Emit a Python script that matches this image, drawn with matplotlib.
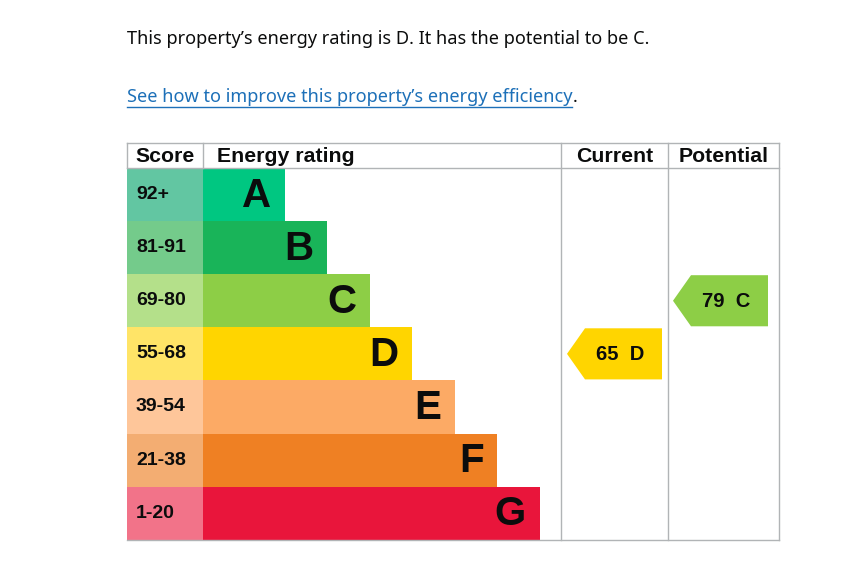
import matplotlib.pyplot as plt
from matplotlib.patches import Rectangle, Polygon

# EPC bands
bands = ['A', 'B', 'C', 'D', 'E', 'F', 'G']
score_ranges = ['92+', '81-91', '69-80', '55-68', '39-54', '21-38', '1-20']
band_colors = ['#00c781', '#19b459', '#8dce46', '#ffd500', '#fcaa65', '#ef8023', '#e9153b']
score_bg = ['#62c6a2', '#74cb8b', '#b4e08a', '#ffe467', '#fec69a', '#f3ad72', '#f27389']

current_score, current_band = 65, 'D'
potential_score, potential_band = 79, 'C'

headline = "This property\u2019s energy rating is D. It has the potential to be C."
link_text = "See how to improve this property\u2019s energy efficiency"

fig = plt.figure(figsize=(8.5, 5.7), dpi=100)
ax = fig.add_axes([0, 0, 1, 1])
ax.set_xlim(0, 850)
ax.set_ylim(570, 0)
ax.axis('off')

# table layout (pixels)
x0, x_score, x_cur, x_pot, x1 = 127, 203, 561, 668, 779
y_head, y_top, row_h = 143, 168, 53.1
y_bot = y_top + row_h * len(bands)
grey = '#b1b4b6'
tfont = 'Liberation Sans'

ax.text(x0, 39.5, headline, fontsize=13.05, family='Noto Sans', color='#0b0c0c', va='center')
lnk = ax.text(x0, 97.5, link_text, fontsize=13.1, family='Noto Sans', color='#1d70b8', va='center')
fig.canvas.draw()
bb = lnk.get_window_extent().transformed(ax.transData.inverted())
ax.plot([bb.x0, bb.x1], [107, 107], color='#1d70b8', lw=1)
ax.text(bb.x1, 97.5, '.', fontsize=13.1, family='Noto Sans', color='#0b0c0c', va='center')

# header
hkw = dict(fontsize=15.3, fontweight='bold', family=tfont, va='center', color='#0b0c0c')
ax.text(x0 + 8, 156.5, 'Score', **hkw)
ax.text(x_score + 14, 156.5, 'Energy rating', **hkw)
ax.text((x_cur + x_pot) / 2, 156.5, 'Current', ha='center', **hkw)
ax.text((x_pot + x1) / 2, 156.5, 'Potential', ha='center', **hkw)

# rows
for i, (band, rng) in enumerate(zip(bands, score_ranges)):
    yc = y_top + row_h * (i + 0.5)
    ax.add_patch(Rectangle((x0, y_top + row_h * i), x_score - x0, row_h, color=score_bg[i], lw=0))
    ax.text(x0 + 9, yc, rng, fontsize=14, fontweight='bold', family=tfont, va='center', color='#0b0c0c')
    width = 82 + 42.5 * i
    ax.barh(yc, width, height=row_h, left=x_score, color=band_colors[i], lw=0)
    ax.text(x_score + width - 14, yc + 1, band, fontsize=29, fontweight='bold', family=tfont,
            va='center', ha='right', color='#0b0c0c')

# grid lines
ax.plot([x0, x1], [y_head, y_head], color=grey, lw=1)
ax.plot([x0, x1], [y_top, y_top], color=grey, lw=1)
ax.plot([x0, x1], [y_bot, y_bot], color=grey, lw=1)
for xv in [x0, x_score]:
    ax.plot([xv, xv], [y_head, y_top], color=grey, lw=1)
for xv in [x_cur, x_pot, x1]:
    ax.plot([xv, xv], [y_head, y_bot], color=grey, lw=1)


def arrow(score, band, left, right):
    i = bands.index(band)
    top = y_top + row_h * i + 1
    bot = top + row_h - 2
    mid = (top + bot) / 2
    tip = 18
    ax.add_patch(Polygon([(left, mid), (left + tip, top), (right, top), (right, bot), (left + tip, bot)],
                         closed=True, color=band_colors[i], lw=0))
    ax.text((left + tip + right) / 2 - 3, mid + 1, f'{score}  {band}', fontsize=14.5, fontweight='bold',
            family=tfont, va='center', ha='center', color='#0b0c0c')


arrow(current_score, current_band, 567, 662)
arrow(potential_score, potential_band, 673, 768)

fig.savefig('out.png', dpi=100)
